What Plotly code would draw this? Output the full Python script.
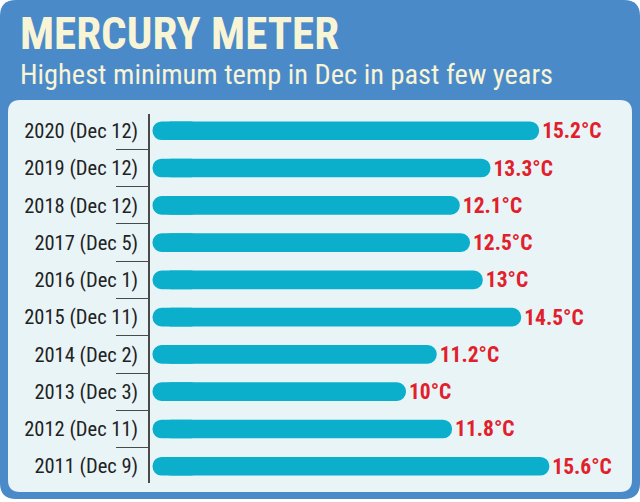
import plotly.graph_objects as go

categories = ["2020 (Dec 12)", "2019 (Dec 12)", "2018 (Dec 12)", "2017 (Dec 5)", "2016 (Dec 1)",
              "2015 (Dec 11)", "2014 (Dec 2)", "2013 (Dec 3)", "2012 (Dec 11)", "2011 (Dec 9)"]
values = [15.2, 13.3, 12.1, 12.5, 13, 14.5, 11.2, 10, 11.8, 15.6]
value_labels = ["15.2°C", "13.3°C", "12.1°C", "12.5°C", "13°C", "14.5°C", "11.2°C", "10°C", "11.8°C", "15.6°C"]

title = "MERCURY METER"
subtitle = "Highest minimum temp in Dec in past few years"

W, H = 640, 502
ML, MR, MT, MB = 150, 10, 114, 19
PW, PH = W - ML - MR, H - MT - MB
XMAX = 18.75
UNIT_PX = PW / XMAX
BAR_PX = 18.6
GAP = 2.5 / UNIT_PX                 # small gap between axis line and bar start
R_DATA = (BAR_PX / 2) / UNIT_PX     # radius of rounded bar end, in data units
SPLIT = GAP + R_DATA                # base of the main bar body
OVERLAP = 1.5                       # start-cap segment runs under the body by this much

BLUE = "#4a8ac9"
PANEL = "#e9f4f7"
BAR = "#0bafcc"
RED = "#e2202c"
CREAM = "#f8f4d6"
NARROW = "Roboto Condensed, DejaVu Sans Condensed, Liberation Sans Narrow, sans-serif"


def px(x):
    return (x - ML) / PW


def py(y):
    return 1 - (y - MT) / PH


def rrect(x0, y0, x1, y1, r):
    a = lambda x, y: f"{px(x):.5f},{py(y):.5f}"
    pts = [
        "M " + a(x0 + r, y0),
        "L " + a(x1 - r, y0),
        "Q " + a(x1, y0) + " " + a(x1, y0 + r),
        "L " + a(x1, y1 - r),
        "Q " + a(x1, y1) + " " + a(x1 - r, y1),
        "L " + a(x0 + r, y1),
        "Q " + a(x0, y1) + " " + a(x0, y1 - r),
        "L " + a(x0, y0 + r),
        "Q " + a(x0, y0) + " " + a(x0 + r, y0),
    ]
    return " ".join(pts) + " Z"


fig = go.Figure()
# reversed segment giving the rounded start of each bar (drawn underneath)
fig.add_trace(go.Bar(
    y=categories, x=[GAP - SPLIT - OVERLAP] * len(categories), base=SPLIT + OVERLAP, orientation="h",
    marker=dict(color=BAR, line=dict(width=0), cornerradius="50%"),
    width=0.5, hoverinfo="skip",
))
# main bar body, rounded at the value end
fig.add_trace(go.Bar(
    y=categories, x=[v - SPLIT for v in values], base=SPLIT, orientation="h",
    marker=dict(color=BAR, line=dict(width=0), cornerradius="50%"),
    width=0.5,
    text=value_labels, textposition="outside", constraintext="none", cliponaxis=False,
    textfont=dict(family=NARROW, size=21.5, color=RED, weight="bold"),
    hoverinfo="skip",
))

fig.update_layout(
    width=W, height=H,
    margin=dict(l=ML, r=MR, t=MT, b=MB, pad=0),
    paper_bgcolor="white", plot_bgcolor="rgba(0,0,0,0)",
    showlegend=False, barmode="overlay",
    xaxis=dict(range=[0, XMAX], visible=False, fixedrange=True),
    yaxis=dict(
        type="category", categoryorder="array", categoryarray=categories,
        range=[9.45, -0.45], showgrid=False, zeroline=False,
        showline=True, linecolor="#4a4a4a", linewidth=1.5,
        ticks="outside", tickson="boundaries", ticklen=32, tickwidth=1.3, tickcolor="#4a4a4a",
        ticklabelstandoff=6,
        tickfont=dict(family=NARROW, size=20.5, color="#222222"),
    ),
    shapes=[
        dict(type="path", xref="paper", yref="paper", layer="below",
             path=rrect(0, 0, 640, 499, 16), fillcolor=BLUE, line=dict(width=0)),
        dict(type="path", xref="paper", yref="paper", layer="below",
             path=rrect(8, 100, 632, 492, 12), fillcolor=PANEL, line=dict(width=0)),
    ],
    annotations=[
        dict(text=title, xref="paper", yref="paper", x=px(18), y=py(5), xanchor="left", yanchor="top",
             showarrow=False, font=dict(family=NARROW, size=45, color=CREAM, weight="bold")),
        dict(text=subtitle, xref="paper", yref="paper", x=px(18), y=py(56), xanchor="left", yanchor="top",
             showarrow=False, font=dict(family=NARROW, size=28.4, color=CREAM)),
    ],
)

fig.write_html("out.html")
